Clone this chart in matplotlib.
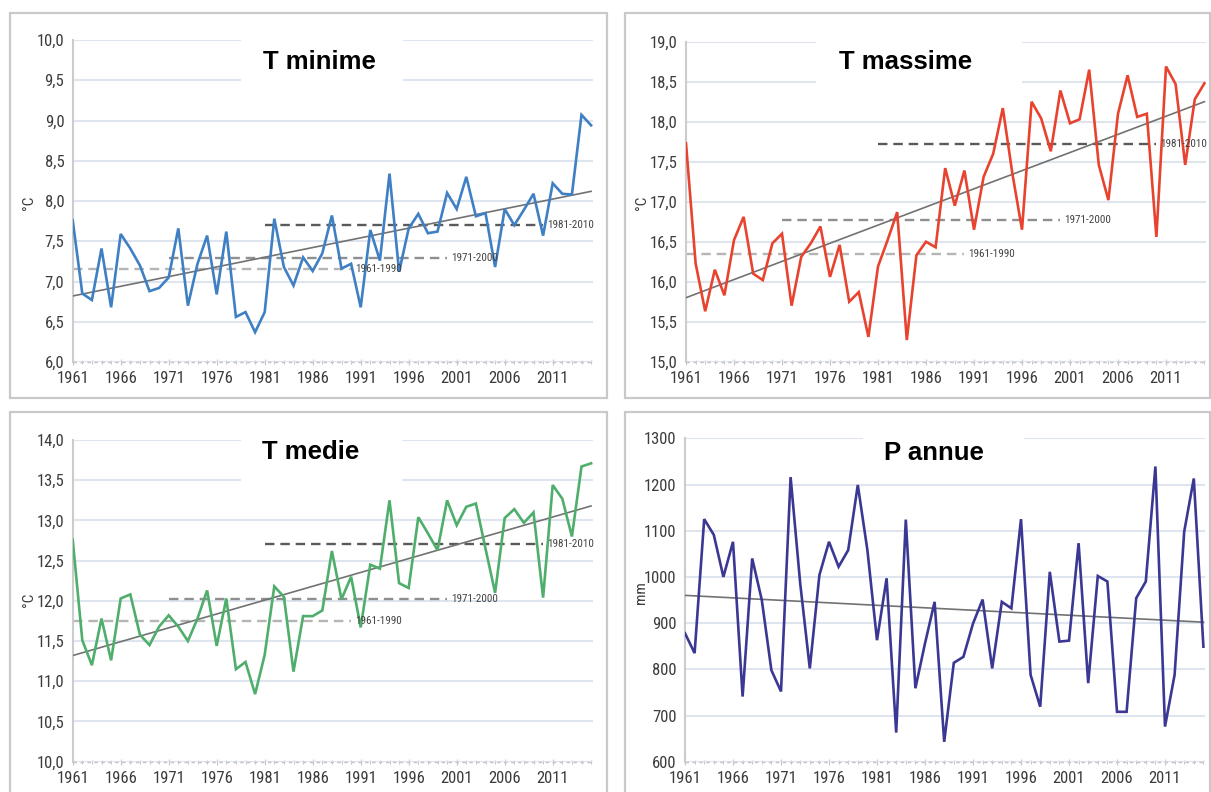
import matplotlib
matplotlib.use("Agg")
import matplotlib.pyplot as plt
from matplotlib.patches import Rectangle
from matplotlib.ticker import FuncFormatter, MultipleLocator, FixedLocator
from matplotlib import font_manager

years = list(range(1961, 2016))

tmin = [7.76, 6.85, 6.77, 7.41, 6.68, 7.59, 7.41, 7.20, 6.88, 6.92,
        7.05, 7.66, 6.70, 7.22, 7.57, 6.84, 7.62, 6.56, 6.62, 6.37,
        6.62, 7.78, 7.18, 6.95, 7.30, 7.13, 7.35, 7.82, 7.16, 7.22,
        6.68, 7.64, 7.26, 8.34, 7.12, 7.66, 7.84, 7.60, 7.62, 8.10,
        7.90, 8.30, 7.81, 7.85, 7.18, 7.90, 7.70, 7.89, 8.09, 7.57,
        8.22, 8.09, 8.08, 9.07, 8.94]

tmax = [17.73, 16.23, 15.63, 16.15, 15.83, 16.52, 16.81, 16.10, 16.02, 16.48,
        16.60, 15.70, 16.31, 16.48, 16.69, 16.06, 16.46, 15.75, 15.87, 15.31,
        16.19, 16.52, 16.87, 15.27, 16.33, 16.50, 16.43, 17.42, 16.95, 17.39,
        16.65, 17.31, 17.60, 18.17, 17.35, 16.65, 18.25, 18.04, 17.63, 18.39,
        17.98, 18.03, 18.65, 17.46, 17.02, 18.10, 18.58, 18.06, 18.10, 16.56,
        18.69, 18.47, 17.46, 18.28, 18.48]

tmed = [12.76, 11.51, 11.20, 11.78, 11.26, 12.03, 12.08, 11.58, 11.45, 11.68,
        11.82, 11.68, 11.50, 11.78, 12.13, 11.44, 12.03, 11.15, 11.24, 10.84,
        11.33, 12.18, 12.05, 11.12, 11.81, 11.81, 11.88, 12.62, 12.02, 12.30,
        11.67, 12.45, 12.40, 13.25, 12.22, 12.16, 13.04, 12.84, 12.63, 13.25,
        12.94, 13.17, 13.21, 12.65, 12.10, 13.03, 13.14, 12.97, 13.10, 12.04,
        13.44, 13.27, 12.80, 13.67, 13.71]

prec = [878, 835, 1125, 1091, 1000, 1076, 741, 1040, 950, 798,
        752, 1216, 986, 802, 1004, 1076, 1022, 1058, 1199, 1058,
        863, 997, 663, 1124, 759, 856, 946, 643, 814, 827,
        899, 951, 802, 946, 932, 1125, 788, 719, 1011, 860,
        862, 1073, 770, 1002, 990, 708, 708, 954, 990, 1239,
        676, 788, 1098, 1213, 849]

tick_years = years[::5]

titles = ["T minime", "T massime", "T medie", "P annue"]
units = ["°C", "°C", "°C", "mm"]
series = [tmin, tmax, tmed, prec]
colors = ["#3f7fc3", "#e8432f", "#4fae6b", "#3b3893"]
ylims = [(6.0, 10.0), (15.0, 19.0), (10.0, 14.0), (600, 1300)]
ysteps = [0.5, 0.5, 0.5, 100]
trend_start = [6.82, 15.80, 11.32, 960]
trend_end = [8.12, 18.25, 13.18, 902]

periods = [(1961, 1990), (1971, 2000), (1981, 2010)]
period_labels = ["1961-1990", "1971-2000", "1981-2010"]
period_means = [[7.15, 7.29, 7.70], [16.35, 16.77, 17.72], [11.75, 12.02, 12.71], None]
period_colors = ["#b5b5b5", "#8f8f8f", "#5a5a5a"]

cond_family = "DejaVu Sans"
cond_stretch = "normal"
names = {f.name: f for f in font_manager.fontManager.ttflist}
for cand in ["Liberation Sans Narrow", "Roboto Condensed", "Open Sans Condensed", "DejaVu Sans Condensed"]:
    if cand in names:
        cond_family = cand
        break
else:
    for f in font_manager.fontManager.ttflist:
        if f.name == "DejaVu Sans" and "ondensed" in str(f.stretch) + f.fname:
            cond_stretch = "condensed"
            break
narrow = [cond_family, "DejaVu Sans"]
boldfam = ["Liberation Sans", "DejaVu Sans"]

W, H = 1211, 792
fig = plt.figure(figsize=(W / 100, H / 100), dpi=100)
fig.patch.set_facecolor("white")

axes_px = [(72.7, 40.0, 362.0), (686.0, 41.7, 361.7), (72.7, 440.0, 761.7), (685.0, 438.3, 761.7)]
xmin, xmax = 1961, 2015.15
px_per_year = 9.6
panel_px = [(10, 13, 607, 398), (625, 13, 1210, 398), (10, 412, 607, 805), (625, 412, 1210, 805)]
title_pos = [(0.474, 0.932), (0.422, 0.937), (0.458, 0.962), (0.478, 0.955)]
title_box = [(0.324, 0.851, 0.311), (0.250, 0.851, 0.397), (0.324, 0.851, 0.309), (0.342, 0.877, 0.310)]
ylabel_px = [(29, 203), (642, 203), (29, 600), (641, 593)]

for (x0, y0, x1, y1) in panel_px:
    fig.patches.append(Rectangle((x0 / W, 1 - y1 / H), (x1 - x0) / W, (y1 - y0) / H,
                                 transform=fig.transFigure, fill=False,
                                 edgecolor="#c9c9c9", linewidth=1.6, zorder=0))

for i in range(4):
    lpx, tpx, bpx = axes_px[i]
    width = (xmax - xmin) * px_per_year
    ax = fig.add_axes([lpx / W, 1 - bpx / H, width / W, (bpx - tpx) / H])
    ax.set_facecolor("none")
    ax.set_xlim(xmin, xmax)
    ax.set_ylim(*ylims[i])

    ax.yaxis.set_major_locator(MultipleLocator(ysteps[i]))
    ax.grid(axis="y", color="#dfe5ef", linewidth=1.5, zorder=0)
    ax.grid(axis="x", visible=False)
    ax.set_axisbelow(True)

    for s in ["top", "right", "bottom"]:
        ax.spines[s].set_visible(False)
    ax.spines["left"].set_color("#cccccc")
    ax.spines["left"].set_linewidth(1.5)

    ax.axhline(ylims[i][0], color="#c4c4c4", linewidth=1.0, linestyle=(0, (2.5, 2.5)),
               zorder=1, clip_on=False)

    ax.xaxis.set_major_locator(FixedLocator(tick_years))
    ax.xaxis.set_minor_locator(FixedLocator(years))
    ax.tick_params(axis="x", which="major", direction="inout", length=5, width=0.8,
                   color="#c4c4c4", pad=4, labelsize=12, labelcolor="#3c3c3c")
    ax.tick_params(axis="x", which="minor", direction="inout", length=3, width=0.7,
                   color="#c4c4c4")
    ax.tick_params(axis="y", length=0, pad=6, labelsize=12, labelcolor="#3c3c3c")
    ax.xaxis.set_major_formatter(FuncFormatter(lambda v, p: f"{int(round(v))}"))
    if ysteps[i] < 1:
        ax.yaxis.set_major_formatter(FuncFormatter(lambda v, p: f"{v:.1f}".replace(".", ",")))
    else:
        ax.yaxis.set_major_formatter(FuncFormatter(lambda v, p: f"{int(round(v))}"))
    for lab in ax.get_xticklabels() + ax.get_yticklabels():
        lab.set_family(narrow)
        lab.set_stretch(cond_stretch)

    bx, by, bw = title_box[i]
    ax.add_patch(Rectangle((bx, by), bw, 0.2, transform=ax.transAxes, facecolor="white",
                           edgecolor="none", zorder=1.5, clip_on=False))
    tx, ty = title_pos[i]
    ax.text(tx, ty, titles[i], transform=ax.transAxes, ha="center", va="center",
            fontsize=18.5, fontweight="bold", family=boldfam, color="black", zorder=5)

    if period_means[i] is not None:
        for k, (p0, p1) in enumerate(periods):
            m = period_means[i][k]
            ax.plot([p0, p1], [m, m], color=period_colors[k], linewidth=1.7,
                    linestyle=(0, (4, 2.5)), zorder=2)
            ax.text(p1 + 0.4, m, period_labels[k], ha="left", va="center",
                    fontsize=8, family=narrow, stretch=cond_stretch,
                    color="#444444", zorder=4.5)

    ax.plot([years[0], years[-1]], [trend_start[i], trend_end[i]], color="#727272",
            linewidth=1.2, zorder=3)

    ax.plot(years, series[i], color=colors[i], linewidth=1.9, zorder=4,
            solid_joinstyle="miter")

    fx, fy = ylabel_px[i]
    fig.text(fx / W, 1 - fy / H, units[i], rotation=90, ha="center", va="center",
             fontsize=11, family=narrow, stretch=cond_stretch, color="#3c3c3c")

fig.savefig("out.png", dpi=100, facecolor="white")
